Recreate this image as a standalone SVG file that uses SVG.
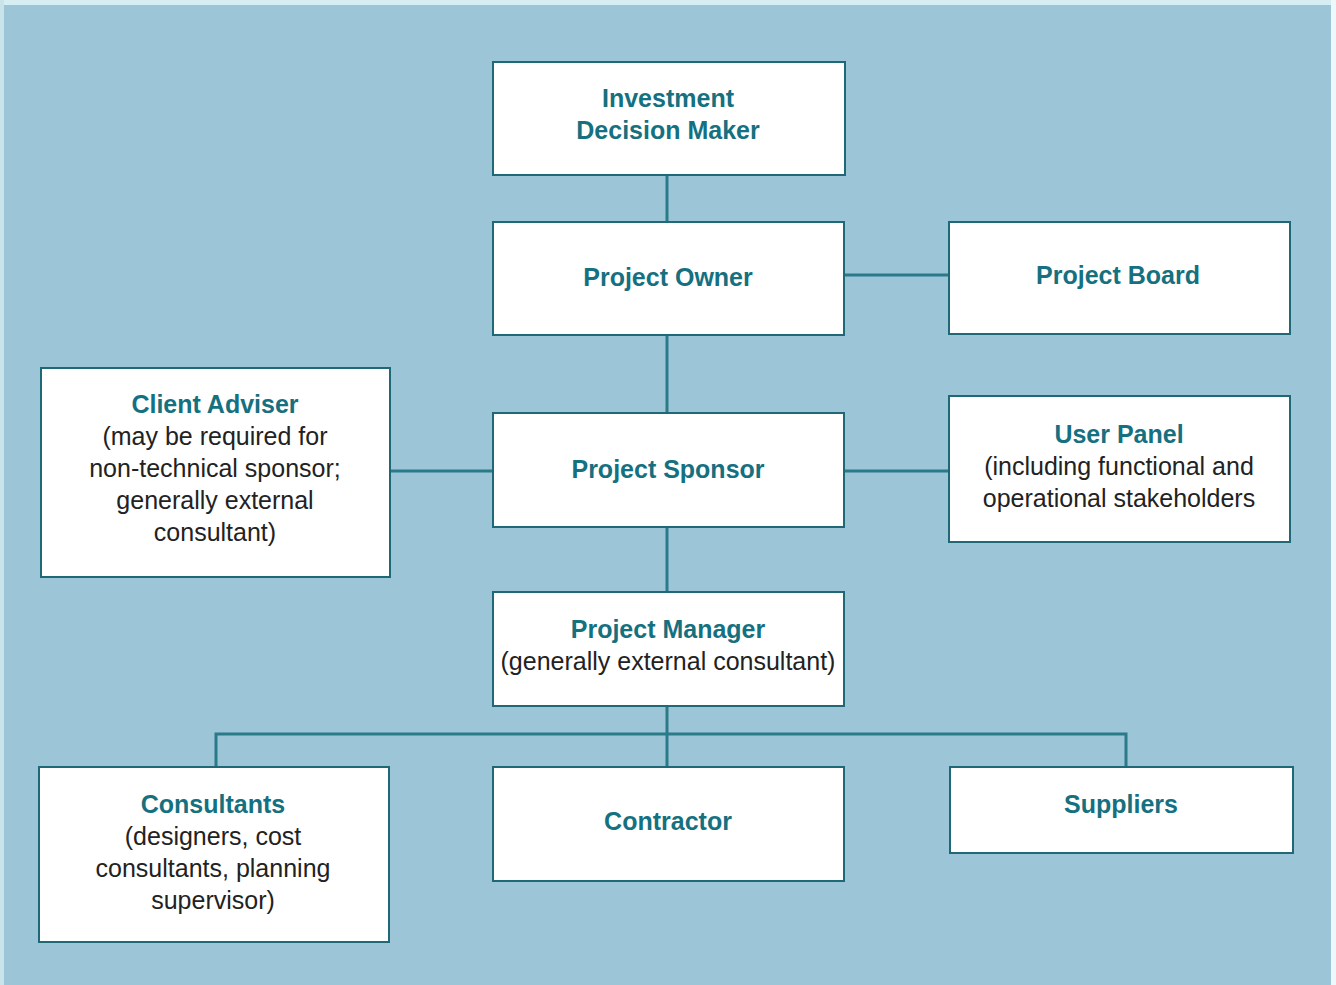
<svg xmlns="http://www.w3.org/2000/svg" width="1336" height="985" viewBox="0 0 1336 985">
<style>
.box{fill:#ffffff;stroke:#1f6876;stroke-width:2}
.t{font-family:"Liberation Sans",Arial,sans-serif;font-weight:bold;font-size:25px;fill:#15707f;text-anchor:middle}
.b{font-family:"Liberation Sans",Arial,sans-serif;font-size:25px;fill:#222222;text-anchor:middle}
.c{stroke:#2a7b88;stroke-width:3;fill:none}
</style>
<rect x="0" y="0" width="1336" height="985" fill="#9dc5d8"/>
<rect x="0" y="0" width="1336" height="5" fill="#d6edf2"/>
<rect x="0" y="0" width="4" height="985" fill="#c8e3ea"/>
<rect x="1331" y="0" width="5" height="985" fill="#eef7f9"/>
<g id="connectors">
<path class="c" d="M667 175V222M667 335V413M667 527V592M667 706V767M844 275H949M390 471H493M844 471H949M216 767V734H1126V767"/>
</g>
<g id="investment">
<rect class="box" x="493" y="62" width="352" height="113"/>
<text class="t" x="668" y="107">Investment</text>
<text class="t" x="668" y="139">Decision Maker</text>
</g>
<g id="owner">
<rect class="box" x="493" y="222" width="351" height="113"/>
<text class="t" x="668" y="286">Project Owner</text>
</g>
<g id="board">
<rect class="box" x="949" y="222" width="341" height="112"/>
<text class="t" x="1118" y="284">Project Board</text>
</g>
<g id="adviser">
<rect class="box" x="41" y="368" width="349" height="209"/>
<text class="t" x="215" y="413">Client Adviser</text>
<text class="b" x="215" y="445">(may be required for</text>
<text class="b" x="215" y="477">non-technical sponsor;</text>
<text class="b" x="215" y="509">generally external</text>
<text class="b" x="215" y="541">consultant)</text>
</g>
<g id="sponsor">
<rect class="box" x="493" y="413" width="351" height="114"/>
<text class="t" x="668" y="478">Project Sponsor</text>
</g>
<g id="userpanel">
<rect class="box" x="949" y="396" width="341" height="146"/>
<text class="t" x="1119" y="443">User Panel</text>
<text class="b" x="1119" y="475">(including functional and</text>
<text class="b" x="1119" y="507">operational stakeholders</text>
</g>
<g id="manager">
<rect class="box" x="493" y="592" width="351" height="114"/>
<text class="t" x="668" y="638">Project Manager</text>
<text class="b" x="668" y="670">(generally external consultant)</text>
</g>
<g id="consultants">
<rect class="box" x="39" y="767" width="350" height="175"/>
<text class="t" x="213" y="813">Consultants</text>
<text class="b" x="213" y="845">(designers, cost</text>
<text class="b" x="213" y="877">consultants, planning</text>
<text class="b" x="213" y="909">supervisor)</text>
</g>
<g id="contractor">
<rect class="box" x="493" y="767" width="351" height="114"/>
<text class="t" x="668" y="830">Contractor</text>
</g>
<g id="suppliers">
<rect class="box" x="950" y="767" width="343" height="86"/>
<text class="t" x="1121" y="813">Suppliers</text>
</g>
</svg>
